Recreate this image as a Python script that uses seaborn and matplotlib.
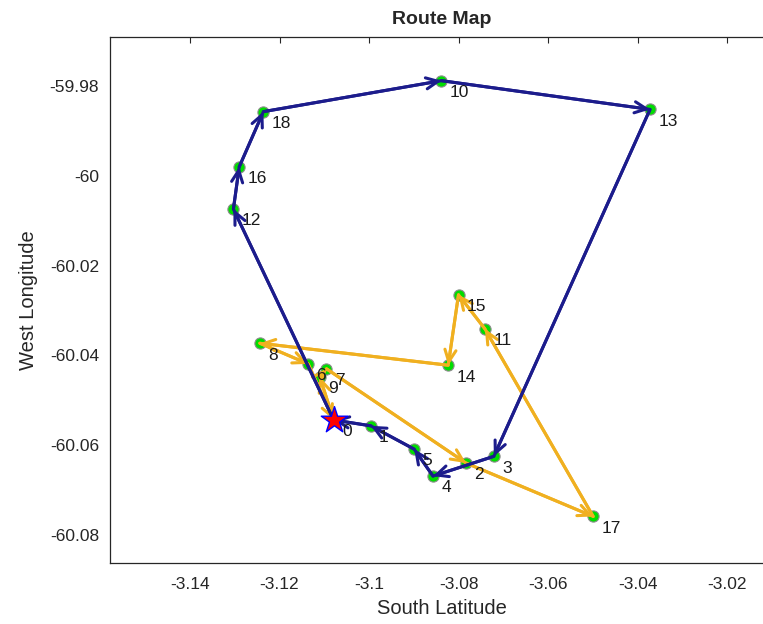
import numpy as np
import pandas as pd
import matplotlib
matplotlib.use("Agg")
import matplotlib.pyplot as plt
import seaborn as sns
from matplotlib.ticker import FuncFormatter

# node coordinates (index = node id)
node_lat = [-3.1079, -3.0996, -3.0783, -3.0721, -3.0857, -3.0899, -3.1136, -3.1095, -3.1244, -3.1110,
            -3.0838, -3.0741, -3.1303, -3.0372, -3.0823, -3.0800, -3.1290, -3.0499, -3.1236]
node_lon = [-60.0544, -60.0557, -60.0640, -60.0625, -60.0669, -60.0609, -60.0419, -60.0430, -60.0373, -60.0448,
            -59.9788, -60.0341, -60.0074, -59.9852, -60.0422, -60.0265, -59.9980, -60.0759, -59.9857]

# two vehicle routes, starting and ending at depot 0
route_blue = [0, 12, 16, 18, 10, 13, 3, 4, 5, 1, 0]
route_orange = [0, 9, 7, 2, 17, 11, 15, 14, 8, 6, 0]

x_ticks = [-3.14, -3.12, -3.10, -3.08, -3.06, -3.04, -3.02]
y_ticks = [-59.98, -60.00, -60.02, -60.04, -60.06, -60.08]

blue = "#1c1c8c"
orange = "#f0b020"

nodes = pd.DataFrame({"lat": node_lat, "lon": node_lon, "id": range(len(node_lat))})

sns.set_style("white")
plt.rcParams["font.family"] = ["Liberation Sans", "DejaVu Sans"]
plt.rcParams["axes.unicode_minus"] = False

fig = plt.figure(figsize=(7.63, 6.24), dpi=100)
ax = fig.add_axes([110 / 763, 61.3 / 624, 664 / 763, 526 / 624])

# customer points
sns.scatterplot(data=nodes.iloc[1:], x="lat", y="lon", color="#00dd00", edgecolor="0.55",
                linewidth=0.8, s=65, zorder=2, ax=ax)

# routes with arrows
for route, col in [(route_orange, orange), (route_blue, blue)]:
    r = nodes.iloc[route].reset_index(drop=True)
    sns.lineplot(data=r, x="lat", y="lon", sort=False, estimator=None, color=col,
                 linewidth=2.2, zorder=3, ax=ax)
    for a, b in zip(route[:-1], route[1:]):
        ax.annotate("", xy=(node_lat[b], node_lon[b]), xytext=(node_lat[a], node_lon[a]),
                    arrowprops=dict(arrowstyle="->,head_length=0.85,head_width=0.4", color=col,
                                    lw=2.2, shrinkA=0, shrinkB=0), zorder=3)

# depot
ax.scatter(node_lat[0], node_lon[0], marker="*", s=400, color="red", edgecolor="blue",
           linewidth=1.0, zorder=4)

# node labels
for i in range(len(node_lat)):
    ax.annotate(str(i), (node_lat[i], node_lon[i]), xytext=(6, -8.5), textcoords="offset points",
                fontsize=12.5, color="0.1", ha="left", va="center", zorder=5)

ax.set_xlim(-3.14 - 80 / 4475, -3.14 + 584 / 4475)
ax.set_ylim(-60.0862, -59.9690)
ax.set_xticks(x_ticks)
ax.set_yticks(y_ticks)
fmt = FuncFormatter(lambda v, p: "%g" % round(v, 4))
ax.xaxis.set_major_formatter(fmt)
ax.yaxis.set_major_formatter(fmt)
ax.tick_params(direction="in", length=4, width=0.8, top=True, right=True,
               labelsize=12.5, colors="0.15", pad=8)
ax.tick_params(axis="x", pad=10)
for sp in ax.spines.values():
    sp.set_color("0.15")
    sp.set_linewidth(0.9)

ax.set_title("Route Map", fontsize=14, fontweight="bold", pad=9)
ax.set_xlabel("South Latitude", fontsize=14.5, color="0.15", labelpad=5)
ax.set_ylabel("West Longitude", fontsize=14.5, color="0.15", labelpad=8)

fig.savefig("out.png", dpi=100)
